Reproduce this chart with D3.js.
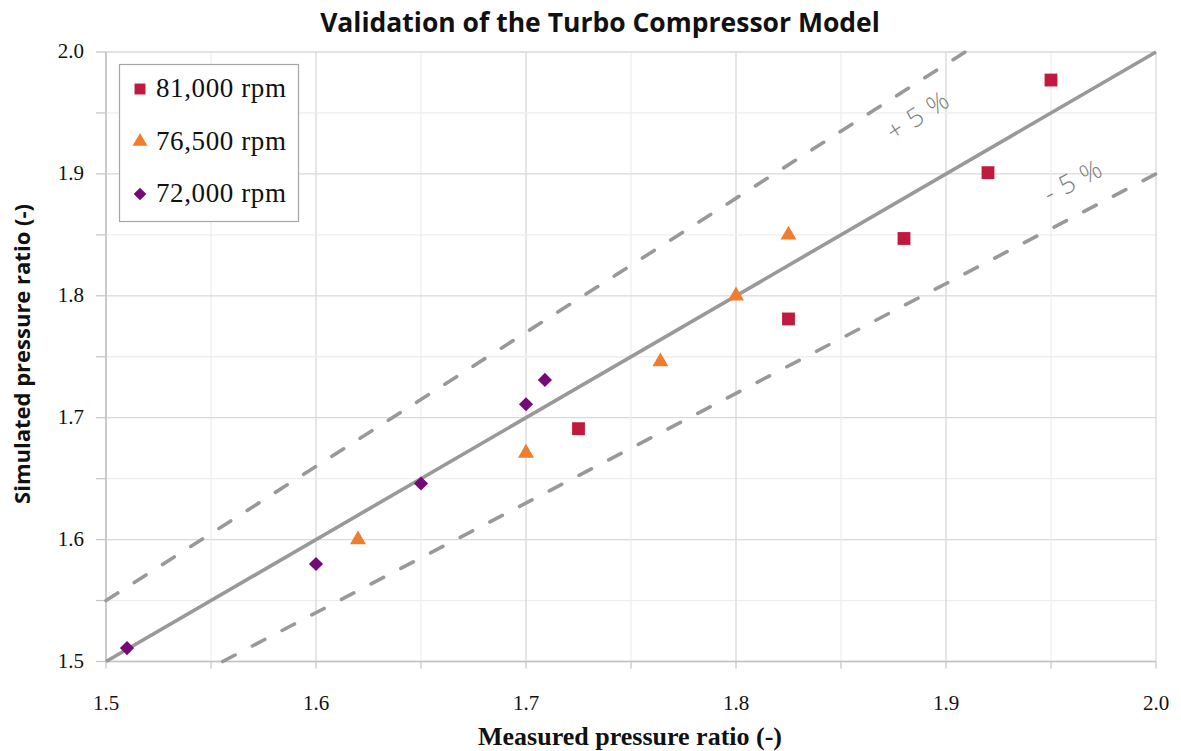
<!DOCTYPE html>
<html><head><meta charset="utf-8">
<script src="https://cdn.jsdelivr.net/npm/d3@7"></script>
<style>body{margin:0;background:#fff}svg{display:block}</style>
</head><body><svg id="c" width="1181" height="751"></svg>
<script>
// ---- data ----
const seriesNames = ["81,000 rpm", "76,500 rpm", "72,000 rpm"];
const measured81 = [1.725, 1.825, 1.88, 1.92, 1.95];
const simulated81 = [1.691, 1.781, 1.847, 1.901, 1.977];
const measured765 = [1.62, 1.70, 1.764, 1.80, 1.825];
const simulated765 = [1.60, 1.671, 1.746, 1.80, 1.85];
const measured72 = [1.51, 1.60, 1.65, 1.70, 1.709];
const simulated72 = [1.511, 1.58, 1.646, 1.711, 1.731];
const xTicks = [1.5, 1.6, 1.7, 1.8, 1.9, 2.0];
const yTicks = [1.5, 1.6, 1.7, 1.8, 1.9, 2.0];
const gridSteps = [1.5, 1.55, 1.6, 1.65, 1.7, 1.75, 1.8, 1.85, 1.9, 1.95, 2.0];
const idealLine = [[1.5, 1.5], [2.0, 2.0]];
const upperLine = [[1.5, 1.55], [1.90909, 2.0]];
const lowerLine = [[1.55556, 1.5], [2.0, 1.9]];
const bandLabels = ["+ 5 %", "- 5 %"];
const bandLabelPos = [[1.889, 1.949], [1.9625, 1.895]];
const title = "Validation of the Turbo Compressor Model";
const xTitle = "Measured pressure ratio (-)";
const yTitle = "Simulated pressure ratio (-)";

const colors = ["#c01b3e", "#ef7d30", "#760878"];
const svg = d3.select("#c");
const L = 106, R = 1156, T = 52, B = 661.5;
const x = d3.scaleLinear().domain([1.5, 2.0]).range([L, R]);
const y = d3.scaleLinear().domain([1.5, 2.0]).range([B, T]);
const isMajor = v => Math.abs(v * 10 - Math.round(v * 10)) < 1e-6;

// grid
const g = svg.append("g");
gridSteps.forEach(v => {
  g.append("line").attr("x1", x(v)).attr("x2", x(v)).attr("y1", T).attr("y2", B)
    .attr("stroke", isMajor(v) ? "#d9d9d9" : "#eeeeee").attr("stroke-width", 1.3);
  g.append("line").attr("x1", L).attr("x2", R).attr("y1", y(v)).attr("y2", y(v))
    .attr("stroke", isMajor(v) ? "#d9d9d9" : "#eeeeee").attr("stroke-width", 1.3);
});
// ticks
gridSteps.forEach(v => {
  g.append("line").attr("x1", x(v)).attr("x2", x(v)).attr("y1", B).attr("y2", B + 7)
    .attr("stroke", "#c8c8c8").attr("stroke-width", 1.3);
  g.append("line").attr("x1", L - 10).attr("x2", L).attr("y1", y(v)).attr("y2", y(v))
    .attr("stroke", "#c8c8c8").attr("stroke-width", 1.3);
});
// axis lines
g.append("line").attr("x1", L).attr("x2", R).attr("y1", B).attr("y2", B).attr("stroke", "#c4c4c4").attr("stroke-width", 1.6);
g.append("line").attr("x1", L).attr("x2", L).attr("y1", T).attr("y2", B).attr("stroke", "#c4c4c4").attr("stroke-width", 1.6);

// tick labels
xTicks.forEach(v => {
  svg.append("text").attr("x", x(v)).attr("y", 710).attr("text-anchor", "middle")
    .attr("font-family", "Liberation Serif").attr("font-size", 21).attr("fill", "#111")
    .text(v.toFixed(1));
});
yTicks.forEach(v => {
  svg.append("text").attr("x", 84).attr("y", y(v) + 6).attr("text-anchor", "end")
    .attr("font-family", "Liberation Serif").attr("font-size", 21).attr("fill", "#111")
    .text(v.toFixed(1));
});

// reference lines
const line = d3.line().x(d => x(d[0])).y(d => y(d[1]));
svg.append("path").attr("d", line(idealLine)).attr("stroke", "#999").attr("stroke-width", 3.6).attr("fill", "none");
[upperLine, lowerLine].forEach((l, i) => {
  svg.append("path").attr("d", line(l)).attr("stroke", "#999").attr("stroke-width", 3.6)
    .attr("fill", "none").attr("stroke-dasharray", "14,19.5").attr("stroke-linecap", "round");
});
// band labels
const angles = [Math.atan(1.1 * (B - T) / (R - L)) * 180 / Math.PI, Math.atan(0.9 * (B - T) / (R - L)) * 180 / Math.PI];
bandLabels.forEach((t, i) => {
  const px = x(bandLabelPos[i][0]), py = y(bandLabelPos[i][1]);
  svg.append("text").attr("transform", `translate(${px},${py + 9}) rotate(${-angles[i]})`)
    .attr("text-anchor", "middle").attr("font-family", "Open Sans").attr("font-weight", 300).attr("font-size", 26)
    .attr("letter-spacing", 1).attr("fill", "#808080").text(t);
});

// markers
const sym = [d3.symbol().type(d3.symbolSquare).size(165), d3.symbol().type(d3.symbolTriangle).size(110), d3.symbol().type(d3.symbolSquare).size(100)];
const rot = [0, 0, 45];
const series = [[measured81, simulated81], [measured765, simulated765], [measured72, simulated72]];
series.forEach((s, i) => {
  svg.append("g").selectAll("path").data(s[0].map((m, j) => [m, s[1][j]])).join("path")
    .attr("d", sym[i]()).attr("fill", colors[i])
    .attr("transform", d => `translate(${x(d[0])},${y(d[1])}) rotate(${rot[i]})`);
});

// legend
const lg = svg.append("g");
lg.append("rect").attr("x", 119.5).attr("y", 64.5).attr("width", 179).attr("height", 157)
  .attr("fill", "#fff").attr("stroke", "#a6a6a6").attr("stroke-width", 1.2);
seriesNames.forEach((n, i) => {
  const cy = 89 + i * 52.5;
  lg.append("path").attr("d", d3.symbol().type(i === 1 ? d3.symbolTriangle : d3.symbolSquare).size(i === 0 ? 120 : i === 1 ? 95 : 80)())
    .attr("fill", colors[i]).attr("transform", `translate(140,${cy}) rotate(${rot[i]})`);
  lg.append("text").attr("x", 156).attr("y", cy + 8).attr("font-family", "Liberation Serif")
    .attr("font-size", 27).attr("letter-spacing", 0.6).attr("fill", "#111").text(n);
});

// titles
svg.append("text").attr("x", 600).attr("y", 32).attr("text-anchor", "middle")
  .attr("font-family", "Open Sans").attr("font-weight", "bold").attr("font-size", 26.5).attr("fill", "#111").text(title);
svg.append("text").attr("x", 630).attr("y", 745).attr("text-anchor", "middle")
  .attr("font-family", "Liberation Serif").attr("font-weight", "bold").attr("font-size", 26).attr("fill", "#111").text(xTitle);
svg.append("text").attr("transform", "translate(30,354) rotate(-90)").attr("text-anchor", "middle")
  .attr("font-family", "Open Sans").attr("font-weight", "bold").attr("font-size", 22).attr("fill", "#111").text(yTitle);
</script>
</body></html>
